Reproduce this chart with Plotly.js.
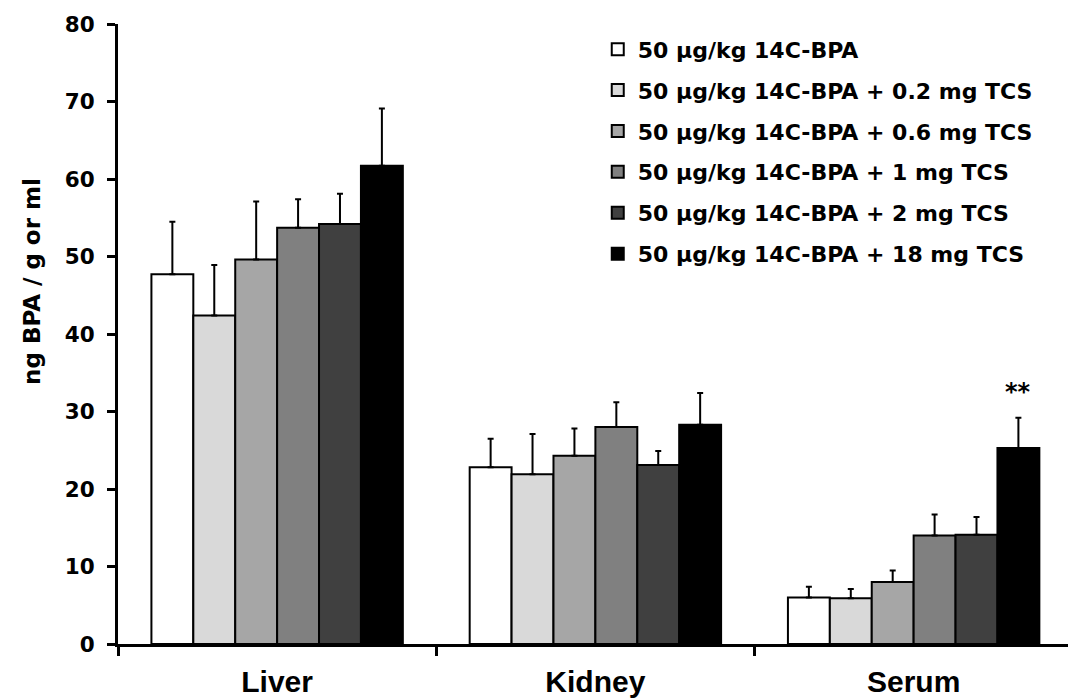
<!DOCTYPE html>
<html>
<head>
<meta charset="utf-8">
<script src="https://cdn.plot.ly/plotly-3.0.1.min.js"></script>
<style>html,body{margin:0;padding:0;background:#fff;}#chart{width:1068px;height:700px;}</style>
</head>
<body>
<div id="chart"></div>
<script>
// Data
const categories = ['Liver', 'Kidney', 'Serum'];
const seriesNames = [
  '50 µg/kg 14C-BPA',
  '50 µg/kg 14C-BPA + 0.2 mg TCS',
  '50 µg/kg 14C-BPA + 0.6 mg TCS',
  '50 µg/kg 14C-BPA + 1 mg TCS',
  '50 µg/kg 14C-BPA + 2 mg TCS',
  '50 µg/kg 14C-BPA + 18 mg TCS'
];
const bpaOnly      = [47.7, 22.8, 6.0];
const bpaTcs02     = [42.4, 21.9, 5.9];
const bpaTcs06     = [49.6, 24.3, 8.0];
const bpaTcs1      = [53.7, 28.0, 14.0];
const bpaTcs2      = [54.2, 23.1, 14.1];
const bpaTcs18     = [61.7, 28.3, 25.3];
const errBpaOnly   = [6.8, 3.7, 1.4];
const errBpaTcs02  = [6.5, 5.2, 1.2];
const errBpaTcs06  = [7.5, 3.5, 1.5];
const errBpaTcs1   = [3.7, 3.2, 2.7];
const errBpaTcs2   = [3.9, 1.8, 2.3];
const errBpaTcs18  = [7.4, 4.1, 3.9];
const yTickVals = [0, 10, 20, 30, 40, 50, 60, 70, 80];
const sigLabel = '**';
const sigCategory = 'Serum';

const seriesValues = [bpaOnly, bpaTcs02, bpaTcs06, bpaTcs1, bpaTcs2, bpaTcs18];
const seriesErrors = [errBpaOnly, errBpaTcs02, errBpaTcs06, errBpaTcs1, errBpaTcs2, errBpaTcs18];
const fills = ['#ffffff', '#d9d9d9', '#a6a6a6', '#808080', '#404040', '#000000'];

const traces = seriesNames.map((name, i) => ({
  type: 'bar',
  name: name,
  x: categories,
  y: seriesValues[i],
  legendgroup: 'g' + i,
  marker: { color: fills[i], line: { color: '#000', width: 2 } },
  error_y: {
    type: 'data', array: seriesErrors[i], symmetric: false,
    arrayminus: seriesErrors[i].map(() => 0),
    color: '#000', thickness: 2, width: 3
  },
  hoverinfo: 'none'
}));

const bargap = 0.21;
const nSeries = seriesNames.length;
const barW = (1 - bargap) / nSeries;
const sigIdx = categories.indexOf(sigCategory);
const lastSeries = nSeries - 1;
const sigX = sigIdx + (-(1 - bargap) / 2 + barW * (lastSeries + 0.5));
const sigY = seriesValues[lastSeries][sigIdx] + seriesErrors[lastSeries][sigIdx];

const layout = {
  width: 1068, height: 700,
  margin: { l: 118, r: 0, t: 24, b: 56 },
  paper_bgcolor: '#fff', plot_bgcolor: '#fff',
  barmode: 'group', bargap: bargap, bargroupgap: 0,
  showlegend: true,
  legend: {
    x: 0.505, y: 0.993, xanchor: 'left', yanchor: 'top',
    bgcolor: 'rgba(0,0,0,0)', borderwidth: 0,
    font: { family: 'DejaVu Sans', size: 22, color: '#000', weight: 'bold' },
    traceorder: 'grouped', tracegroupgap: 9.3, itemclick: false
  },
  xaxis: {
    type: 'category', range: [-0.5, 2.485],
    showline: true, linecolor: '#000', linewidth: 3,
    ticks: 'outside', tickson: 'boundaries', ticklen: 9, tickwidth: 3, tickcolor: '#000',
    ticklabelstandoff: 9,
    tickfont: { family: 'Liberation Sans', size: 30, color: '#000', weight: 'bold' },
    showgrid: false, zeroline: false, fixedrange: true
  },
  yaxis: {
    range: [0, 80], tickvals: yTickVals, ticktext: yTickVals.map(String),
    showline: true, linecolor: '#000', linewidth: 3,
    ticks: 'outside', ticklen: 8, tickwidth: 3, tickcolor: '#000',
    ticklabelstandoff: 8,
    tickfont: { family: 'DejaVu Sans', size: 21.5, color: '#000', weight: 'bold' },
    showgrid: false, zeroline: false, fixedrange: true
  },
  annotations: [
    {
      text: 'ng BPA / g or ml', textangle: -90,
      xref: 'paper', yref: 'paper', x: -0.0905, y: 0.584,
      xanchor: 'center', yanchor: 'middle', showarrow: false,
      font: { family: 'DejaVu Sans', size: 23, color: '#000', weight: 'bold' }
    },
    {
      text: sigLabel, xref: 'x', yref: 'y', x: sigX, y: sigY + 1.3,
      xanchor: 'center', yanchor: 'bottom', showarrow: false,
      font: { family: 'DejaVu Sans', size: 24, color: '#000', weight: 'bold' }
    }
  ]
};

Plotly.newPlot('chart', traces, layout, { displayModeBar: false, staticPlot: true });
</script>
</body>
</html>
